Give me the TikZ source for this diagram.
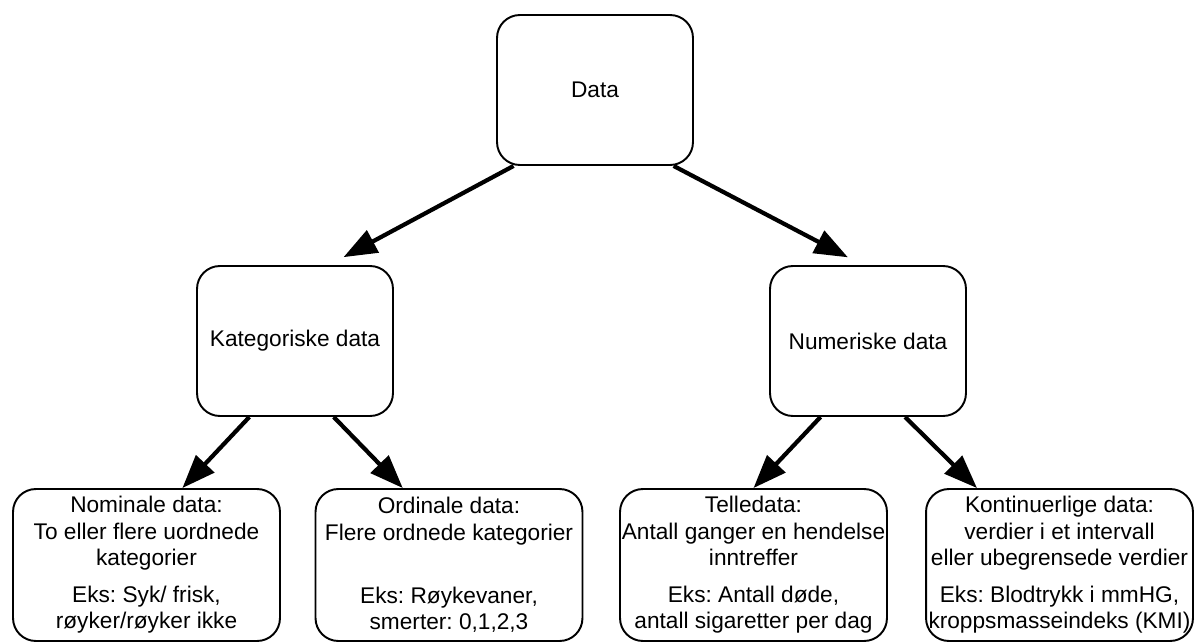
\documentclass[tikz,border=0pt]{standalone}
\usepackage{fontspec}
\setmainfont{Liberation Sans}
\usepackage{tikz}
\usetikzlibrary{arrows.meta}
\frenchspacing

\begin{document}
\begin{tikzpicture}[x=0.02cm,y=-0.02cm,
  box/.style={draw,line width=1.1pt,rounded corners=13pt,align=center,inner sep=0pt,
    font=\fontsize{12.9}{15}\selectfont},
  topbox/.style={box,minimum width=3.92cm,minimum height=3cm},
  leafbox/.style={box,minimum width=5.34cm,minimum height=3.04cm},
  arr/.style={line width=2.4pt,-{Triangle[length=19pt,width=14pt]}}]
\useasboundingbox (0,0) rectangle (1194,642);
\node [topbox] (data) at (595,90) {Data};
\node [topbox] (kat) at (295,341) {Kategoriske data};
\node [topbox] (num) at (868,341) {Numeriske data};
\node [leafbox] (nom) at (146.5,565) {Nominale data:\\To eller flere uordnede\\kategorier\\[6pt]Eks: Syk/ frisk,\\røyker/røyker ikke};
\node [leafbox] (ord) at (449,565) {Ordinale data:\\Flere ordnede kategorier\\[21pt]Eks: Røykevaner,\\smerter: 0,1,2,3};
\node [leafbox] (tel) at (753.5,565) {Telledata:\\Antall ganger en hendelse\\inntreffer\\[6pt]Eks: Antall døde,\\antall sigaretter per dag};
\node [leafbox] (kon) at (1059.5,565) {Kontinuerlige data:\\verdier i et intervall\\eller ubegrensede verdier\\[6pt]Eks: Blodtrykk i mmHG,\\kroppsmasseindeks (KMI)};
\draw [arr,shorten >=9.5pt] (data.223) -- (kat.66);
\draw [arr,shorten >=9.5pt] (data.316) -- (num.94.6);
\draw [arr] (kat.239) -- (nom.65);
\draw [arr] (kat.297) -- (ord.121);
\draw [arr] (num.238.5) -- (tel.north);
\draw [arr] (num.296) -- (kon.137);
\end{tikzpicture}
\end{document}
